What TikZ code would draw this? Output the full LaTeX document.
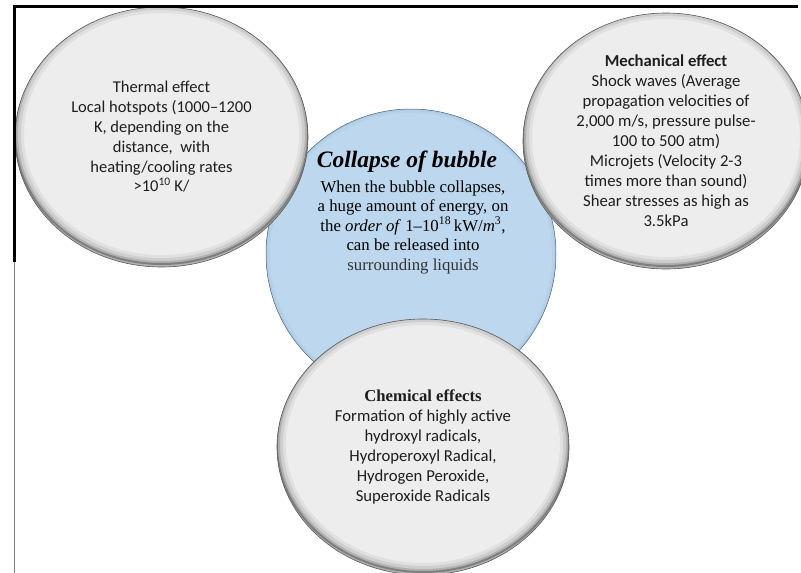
\documentclass[tikz,border=0pt]{standalone}
\usepackage{fontspec}
\setmainfont{Carlito}
\newfontfamily\timesfont[Ligatures = TeX]{Liberation Serif}
\usetikzlibrary{shapes.geometric}
\definecolor{bubblegray}{HTML}{EDEDED}
\definecolor{bubbleedge}{HTML}{5A5A5A}
\definecolor{bubbleblue}{HTML}{BDD7EE}
\definecolor{blueedge}{HTML}{4A6785}
\definecolor{effecttext}{HTML}{1E1E1E}
\tikzset{
	effect/.style 2 args = {
		ellipse, minimum width = #1, minimum height = #2, inner sep = 0pt,
		fill = bubblegray, draw = bubbleedge, line width = 0.6pt,
		align = center, text = effecttext, font = \fontsize{16.7}{20}\selectfont,
		path picture = {
			\foreach \w/\o in {2pt/0.28, 6pt/0.14, 12pt/0.08, 18pt/0.05}
				\draw [black, opacity = \o, line width = \w]
					([yshift = 3pt] path picture bounding box.center)
					ellipse [x radius = #1/2, y radius = #2/2];
		}
	},
	bubble/.style = {
		circle, minimum size = #1, inner sep = 0pt,
		fill = bubbleblue, draw = blueedge, line width = 0.5pt,
		path picture = {
			\foreach \w/\o in {3pt/0.08, 8pt/0.05}
				\draw [blueedge, opacity = \o, line width = \w]
					(path picture bounding box.center) circle [radius = #1/2];
		}
	}
}

\begin{document}
\begin{tikzpicture}[x = 1pt, y = -1pt]
	\useasboundingbox (0, 0) rectangle (801, 573);

	% Bubble.
	\node [bubble = 290pt] (collapse) at (411, 254) {};
	\node [font = \timesfont\bfseries\itshape\fontsize{23.5}{27}\selectfont] (title) at (407, 162) {Collapse of bubble};
	\node [align = center, font = \timesfont\fontsize{16.8}{19.5}\selectfont] (body) at (413, 227)
		{When the bubble collapses,\\
		a huge amount of energy, on\\
		the \textit{order of} 1--10\textsuperscript{18}\,kW/\textit{m}\textsuperscript{3},\\
		can be released into\\
		{\color{black!80}surrounding liquids}};

	% Effects.
	\node [effect = {293pt}{260pt}, font = \fontsize{16.5}{19.8}\selectfont] (thermal) at (161.5, 137)
		{Thermal effect\\
		Local hotspots (1000--1200\\
		K, depending on the\\
		distance,~ with\\
		heating/cooling rates\\
		>10\textsuperscript{10} K/};

	\node [effect = {286pt}{256pt}] (mechanical) at (666, 141)
		{\textbf{Mechanical effect}\\
		Shock waves (Average\\
		propagation velocities of\\
		2,000 m/s, pressure pulse-\\
		100 to 500 atm)\\
		Microjets (Velocity 2-3\\
		times more than sound)\\
		Shear stresses as high as\\
		3.5kPa};

	\node [effect = {292pt}{256pt}] (chemical) at (423, 447)
		{{\timesfont\bfseries Chemical effects}\\
		Formation of highly active\\
		hydroxyl radicals,\\
		Hydroperoxyl Radical,\\
		Hydrogen Peroxide,\\
		Superoxide Radicals};

	% Frame.
	\coordinate (tl) at (14, 6);
	\coordinate (tr) at (798, 6);
	\coordinate (lm) at (14, 262);
	\coordinate (bl) at (14, 573);
	\draw [line width = 3pt] (tr) -- (tl) -- (lm);
	\draw [gray, line width = 0.8pt] (lm) -- (bl);
\end{tikzpicture}
\end{document}
